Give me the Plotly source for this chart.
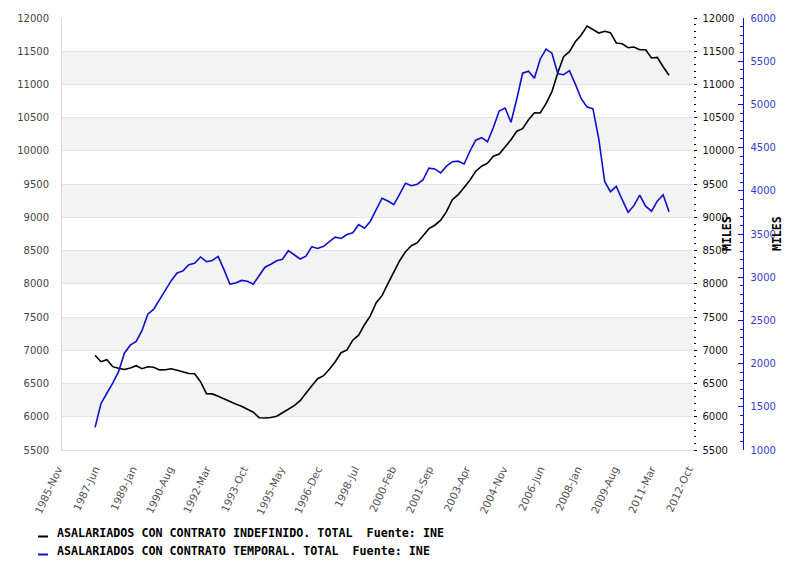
import pandas as pd
import plotly.graph_objects as go

# ---- data ----
fechas = pd.date_range("1987-04-01", periods=99, freq="QS")
indefinido = [6926, 6829, 6859, 6754, 6731, 6711, 6734, 6768, 6723, 6753,
              6746, 6705, 6708, 6723, 6701, 6675, 6651, 6648, 6528, 6347,
              6344, 6310, 6266, 6222, 6191, 6159, 6117, 6069, 5986, 5982,
              5990, 6009, 6061, 6114, 6167, 6242, 6362, 6468, 6573, 6618,
              6716, 6829, 6964, 7005, 7152, 7227, 7385, 7521, 7716, 7822,
              8002, 8168, 8348, 8484, 8574, 8619, 8724, 8830, 8882, 8958,
              9086, 9266, 9341, 9447, 9560, 9695, 9770, 9815, 9921, 9954,
              10064, 10169, 10297, 10334, 10470, 10575, 10571, 10711, 10891, 11177,
              11418, 11493, 11643, 11744, 11877, 11824, 11774, 11801, 11779, 11624,
              11613, 11553, 11564, 11523, 11523, 11398, 11407, 11267, 11139]
temporal = [1262, 1536, 1657, 1773, 1906, 2120, 2213, 2257, 2381, 2572,
            2630, 2745, 2844, 2960, 3049, 3073, 3145, 3162, 3234, 3179,
            3194, 3241, 3087, 2921, 2933, 2963, 2954, 2919, 3017, 3116,
            3150, 3191, 3208, 3307, 3260, 3211, 3243, 3353, 3332, 3357,
            3411, 3463, 3449, 3494, 3515, 3608, 3567, 3648, 3781, 3914,
            3882, 3839, 3961, 4088, 4059, 4076, 4128, 4262, 4253, 4206,
            4285, 4337, 4343, 4310, 4458, 4586, 4615, 4568, 4733, 4924,
            4958, 4794, 5063, 5361, 5384, 5303, 5523, 5639, 5593, 5355,
            5344, 5390, 5234, 5066, 4970, 4950, 4597, 4105, 3990, 4051,
            3897, 3752, 3828, 3949, 3822, 3764, 3880, 3955, 3758]
tick_vals = ["1985-11-01", "1987-06-01", "1989-01-01", "1990-08-01", "1992-03-01",
             "1993-10-01", "1995-05-01", "1996-12-01", "1998-07-01", "2000-02-01",
             "2001-09-01", "2003-04-01", "2004-11-01", "2006-06-01", "2008-01-01",
             "2009-08-01", "2011-03-01", "2012-10-01"]
tick_text = ["1985-Nov", "1987-Jun", "1989-Jan", "1990-Aug", "1992-Mar",
             "1993-Oct", "1995-May", "1996-Dec", "1998-Jul", "2000-Feb",
             "2001-Sep", "2003-Apr", "2004-Nov", "2006-Jun", "2008-Jan",
             "2009-Aug", "2011-Mar", "2012-Oct"]
nombre_ind = "ASALARIADOS CON CONTRATO INDEFINIDO. TOTAL  Fuente: INE"
nombre_tem = "ASALARIADOS CON CONTRATO TEMPORAL. TOTAL  Fuente: INE"

BLUE = "#1010cc"
BLUE_TXT = "#3a3acc"
MONO = "DejaVu Sans Mono"
SANS = "DejaVu Sans"

fig = go.Figure()
fig.add_trace(go.Scatter(x=fechas, y=indefinido, mode="lines", name=nombre_ind,
                         line=dict(color="#000000", width=1.6), yaxis="y",
                         showlegend=False))
# same series referenced on the right-hand black axis (keeps that axis drawn)
fig.add_trace(go.Scatter(x=fechas, y=indefinido, mode="lines", name=nombre_ind,
                         line=dict(color="rgba(0,0,0,0)", width=0), yaxis="y2",
                         showlegend=False, hoverinfo="skip"))
fig.add_trace(go.Scatter(x=fechas, y=temporal, mode="lines", name=nombre_tem,
                         line=dict(color=BLUE, width=1.6), yaxis="y3",
                         showlegend=False))

# alternating bands
for lo in range(6000, 12000, 1000):
    fig.add_shape(type="rect", xref="x domain", x0=0, x1=1, yref="y", y0=lo, y1=lo + 500,
                  fillcolor="#f3f3f3", line=dict(width=0), layer="below")

# page body has an 8px margin: figure is 785x553 placed at (8, 8) in the window
OFF = 8
W, H = 793 - OFF, 561 - OFF
L, T = 62 - OFF, 18 - OFF
PW = W - L
PH = 432
dom_end = (692.5 - 62) / PW
blue_pos = (742.5 - 62) / PW

def px(x):  # window pixel -> paper x
    return (x - 62) / PW

def py(y):  # window pixel -> paper y
    return (450 - y) / PH

# legend (custom)
for i, (nm, col) in enumerate([(nombre_ind, "#000000"), (nombre_tem, BLUE)]):
    yc = 533 + 18 * i
    fig.add_shape(type="line", xref="paper", yref="paper", x0=px(38), x1=px(48),
                  y0=py(yc + 3.5), y1=py(yc + 3.5), line=dict(color=col, width=2))
    fig.add_annotation(xref="paper", yref="paper", x=px(54.5), y=py(yc), xanchor="left",
                       yanchor="middle", showarrow=False, text="<b>%s</b>" % nm,
                       font=dict(family=MONO, size=11.7, color="#000000"))

# axis titles
for xx in (727, 777):
    fig.add_annotation(xref="paper", yref="paper", x=px(xx), y=0.5, xanchor="center",
                       yanchor="middle", showarrow=False, text="<b>MILES</b>", textangle=-90,
                       font=dict(family=MONO, size=11.5, color="#000000"))

fig.update_layout(
    width=W, height=H,
    margin=dict(l=L, r=0, t=T, b=H - T - PH, autoexpand=False),
    paper_bgcolor="white", plot_bgcolor="white",
    font=dict(family=SANS, size=10, color="#444444"),
    xaxis=dict(type="date", domain=[0, dom_end], range=["1985-11-01", "2012-10-01"],
               tickvals=tick_vals, ticktext=tick_text, tickangle=-65, automargin=False,
               ticklabelstandoff=8, ticklabelshift=-4,
               showgrid=False, zeroline=False, showline=True, linecolor="#dddddd",
               tickfont=dict(family=SANS, size=10.5, color="#555555")),
    yaxis=dict(range=[5500, 12000], dtick=500, tick0=5500, showgrid=True, tickformat="d",
               gridcolor="#e4e4e4", zeroline=False, showline=True, linecolor="#dddddd",
               ticks="", ticklabelstandoff=10, automargin=False,
               tickfont=dict(family=SANS, size=10, color="#444444")),
    yaxis2=dict(range=[5500, 12000], dtick=500, tick0=5500, overlaying="y", side="right",
                anchor="x", showgrid=False, zeroline=False, showline=False, tickformat="d",
                ticks="outside", ticklen=3, tickcolor="#000000", tickwidth=1,
                minor=dict(dtick=100, ticks="outside", ticklen=2, tickcolor="#000000"),
                ticklabelstandoff=4, automargin=False,
                tickfont=dict(family=SANS, size=10, color="#111111")),
    yaxis3=dict(range=[1000, 6000], dtick=500, tick0=1000, overlaying="y", side="right",
                anchor="free", position=blue_pos, showgrid=False, zeroline=False,
                showline=True, linecolor=BLUE, linewidth=1, tickformat="d",
                ticks="inside", ticklen=5, tickcolor=BLUE, automargin=False,
                minor=dict(dtick=100, ticks="inside", ticklen=3, tickcolor=BLUE),
                ticklabelstandoff=5,
                tickfont=dict(family=SANS, size=10, color=BLUE_TXT)),
)

fig.write_html("out.html")
